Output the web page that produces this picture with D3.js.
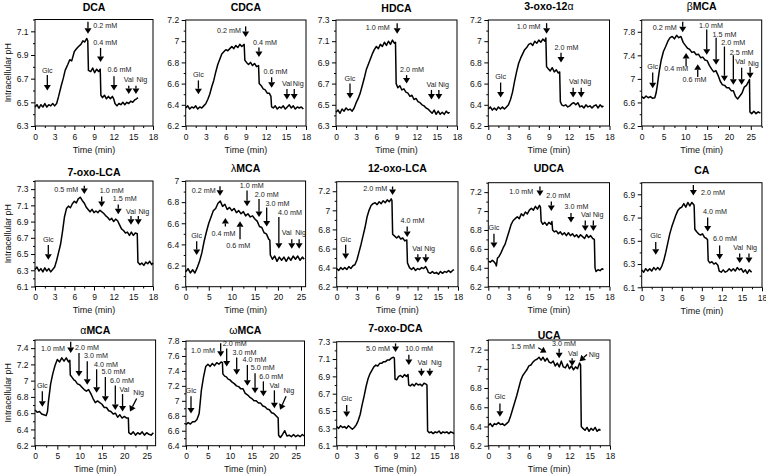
<!DOCTYPE html>
<html><head><meta charset="utf-8">
<script src="https://cdn.jsdelivr.net/npm/d3@7"></script>
<style>
body{margin:0;background:#fff}
svg{display:block}
text{font-family:"Liberation Sans",Arial,Helvetica,sans-serif}
</style>
</head><body>
<svg id="c" width="766" height="476"></svg>
<script>
// ---------- DATA: traces as [time (min), intracellular pH] ----------
const dcaTrace = [[0,6.46],[0.3,6.48],[0.6,6.45],[0.9,6.48],[1.2,6.46],[1.5,6.49],[1.8,6.46],[2.1,6.48],[2.4,6.47],[2.7,6.49],[3,6.47],[3.3,6.49],[3.6,6.55],[4,6.64],[4.3,6.70],[4.6,6.77],[5,6.82],[5.3,6.86],[5.6,6.85],[6,6.93],[6.3,6.95],[6.6,6.97],[7,6.99],[7.3,7.02],[7.6,7.01],[7.9,7.04],[8.05,7.02],[8.15,6.77],[8.5,6.76],[8.8,6.79],[9.1,6.75],[9.4,6.78],[9.7,6.76],[9.95,6.78],[10.05,6.56],[10.3,6.54],[10.6,6.56],[10.9,6.53],[11.2,6.55],[11.5,6.53],[11.8,6.55],[12.0,6.53],[12.2,6.49],[12.5,6.47],[12.8,6.49],[13.1,6.48],[13.4,6.50],[13.7,6.48],[14,6.50],[14.3,6.49],[14.6,6.51],[14.9,6.50],[15.2,6.52],[15.5,6.53],[15.7,6.54]];
const cdcaTrace = [[0,6.37],[0.3,6.39],[0.6,6.36],[0.9,6.38],[1.2,6.37],[1.5,6.39],[1.8,6.36],[2.1,6.38],[2.4,6.37],[2.7,6.39],[3,6.41],[3.3,6.45],[3.6,6.50],[3.9,6.57],[4.2,6.63],[4.5,6.71],[4.8,6.78],[5.1,6.83],[5.4,6.88],[5.7,6.90],[6,6.92],[6.3,6.91],[6.6,6.93],[6.9,6.95],[7.2,6.93],[7.5,6.96],[7.8,6.94],[8.1,6.97],[8.4,6.95],[8.75,6.97],[8.85,6.82],[9.1,6.80],[9.4,6.78],[9.7,6.80],[10,6.77],[10.3,6.79],[10.6,6.76],[10.9,6.77],[11.0,6.60],[11.3,6.58],[11.6,6.55],[11.9,6.54],[12.2,6.51],[12.5,6.51],[12.75,6.48],[12.85,6.38],[13.1,6.37],[13.4,6.39],[13.7,6.36],[14,6.38],[14.3,6.37],[14.6,6.39],[14.9,6.36],[15.2,6.38],[15.5,6.40],[15.8,6.37],[16.1,6.39],[16.4,6.36],[16.7,6.38],[17,6.37],[17.3,6.38],[17.6,6.36]];
const hdcaTrace = [[0,6.43],[0.3,6.45],[0.6,6.42],[0.9,6.46],[1.2,6.44],[1.5,6.47],[1.8,6.45],[2.1,6.46],[2.4,6.44],[2.7,6.47],[3,6.52],[3.3,6.56],[3.6,6.61],[3.9,6.68],[4.2,6.75],[4.5,6.83],[4.8,6.88],[5.1,6.93],[5.4,6.98],[5.7,7.02],[6,7.05],[6.3,7.03],[6.6,7.07],[6.9,7.05],[7.2,7.09],[7.5,7.06],[7.8,7.10],[8.1,7.07],[8.4,7.11],[8.7,7.08],[8.85,7.09],[8.95,6.70],[9.2,6.66],[9.5,6.68],[9.8,6.64],[10.1,6.65],[10.4,6.62],[10.7,6.61],[11,6.58],[11.3,6.59],[11.6,6.55],[11.9,6.56],[12.2,6.53],[12.5,6.52],[12.8,6.50],[13.1,6.49],[13.4,6.47],[13.7,6.46],[14,6.44],[14.3,6.42],[14.6,6.45],[14.9,6.41],[15.2,6.44],[15.5,6.41],[15.8,6.43],[16.1,6.41],[16.4,6.44],[16.7,6.42],[16.9,6.43]];
const oxo12Trace = [[0,6.36],[0.3,6.38],[0.6,6.35],[0.9,6.37],[1.2,6.35],[1.5,6.38],[1.8,6.36],[2.1,6.38],[2.4,6.36],[2.7,6.38],[3,6.40],[3.3,6.45],[3.6,6.52],[3.9,6.62],[4.2,6.71],[4.5,6.79],[4.8,6.84],[5.1,6.88],[5.4,6.92],[5.7,6.94],[6,6.97],[6.3,6.98],[6.6,6.96],[6.9,7.00],[7.2,6.98],[7.5,7.01],[7.8,6.99],[8.1,7.02],[8.4,7.00],[8.55,7.03],[8.65,6.76],[8.9,6.74],[9.2,6.72],[9.5,6.75],[9.8,6.71],[10.1,6.73],[10.4,6.70],[10.6,6.71],[10.7,6.43],[10.9,6.40],[11.2,6.39],[11.5,6.40],[11.8,6.38],[12.1,6.39],[12.4,6.41],[12.7,6.42],[13,6.40],[13.3,6.42],[13.6,6.38],[13.9,6.39],[14.2,6.37],[14.5,6.40],[14.8,6.38],[15.1,6.39],[15.4,6.37],[15.7,6.39],[16,6.40],[16.3,6.37],[16.6,6.40],[16.9,6.38],[17.1,6.39]];
const bmcaTrace = [[0,6.70],[0.5,6.67],[1,6.71],[1.5,6.68],[2,6.70],[2.5,6.67],[3,6.68],[3.3,6.76],[3.6,6.90],[4,7.12],[4.5,7.33],[5,7.47],[5.5,7.55],[6,7.64],[6.5,7.70],[7,7.72],[7.5,7.68],[8,7.74],[8.5,7.70],[9,7.72],[9.5,7.62],[10,7.57],[10.5,7.52],[11,7.50],[11.5,7.45],[12,7.46],[12.5,7.41],[13,7.42],[13.5,7.36],[14,7.37],[14.5,7.32],[15,7.31],[15.5,7.23],[16,7.17],[16.5,7.12],[17,7.14],[17.5,7.06],[18,6.96],[18.5,6.90],[19,6.89],[19.5,6.85],[20,6.85],[20.5,6.80],[21,6.80],[21.5,6.70],[22,6.66],[22.5,6.71],[23,6.76],[23.5,6.86],[24,6.89],[24.5,6.96],[24.7,6.99],[24.8,6.44],[25.2,6.41],[25.7,6.45],[26.2,6.41],[26.7,6.44],[27.2,6.42]];
const oxoLcaTrace = [[0,6.31],[0.3,6.34],[0.6,6.29],[0.9,6.32],[1.2,6.28],[1.5,6.33],[1.8,6.29],[2.1,6.32],[2.4,6.28],[2.7,6.31],[3,6.34],[3.3,6.42],[3.6,6.52],[3.9,6.62],[4.2,6.78],[4.5,6.96],[4.8,7.06],[5.1,7.09],[5.4,7.07],[5.7,7.12],[6,7.15],[6.3,7.13],[6.6,7.18],[6.9,7.20],[7.2,7.16],[7.5,7.13],[7.8,7.08],[8.1,7.05],[8.4,7.02],[8.7,7.05],[9,7.01],[9.3,7.03],[9.6,7.01],[9.9,7.04],[10.2,7.02],[10.5,7.00],[10.8,6.97],[11.1,6.95],[11.4,6.92],[11.7,6.94],[12,6.90],[12.3,6.93],[12.6,6.91],[12.9,6.86],[13.2,6.81],[13.5,6.79],[13.8,6.76],[14.1,6.77],[14.4,6.73],[14.7,6.77],[15,6.73],[15.3,6.76],[15.6,6.75],[15.7,6.40],[16,6.37],[16.3,6.39],[16.6,6.36],[16.9,6.40],[17.2,6.38],[17.5,6.41],[17.8,6.37],[18,6.39]];
const lmcaTrace = [[0,6.14],[0.5,6.17],[1,6.13],[1.5,6.16],[2,6.13],[2.5,6.18],[3,6.24],[3.5,6.32],[4,6.43],[4.5,6.52],[5,6.60],[5.5,6.66],[6,6.72],[6.5,6.74],[7,6.79],[7.5,6.81],[8,6.76],[8.5,6.78],[9,6.73],[9.5,6.75],[10,6.72],[10.5,6.74],[11,6.70],[11.5,6.72],[12,6.69],[12.5,6.71],[13,6.67],[13.5,6.69],[14,6.66],[14.5,6.67],[15,6.64],[15.5,6.62],[16,6.57],[16.5,6.56],[17,6.51],[17.5,6.50],[18,6.45],[18.25,6.44],[18.35,6.30],[18.8,6.26],[19.3,6.29],[19.8,6.24],[20.3,6.28],[20.8,6.25],[21.3,6.28],[21.8,6.24],[22.3,6.28],[22.8,6.25],[23.3,6.29],[23.8,6.26],[24.3,6.29],[24.8,6.25],[25.3,6.28],[25.7,6.26]];
const oxo12LcaTrace = [[0,6.39],[0.3,6.37],[0.6,6.40],[0.9,6.38],[1.2,6.40],[1.5,6.38],[1.8,6.41],[2.1,6.39],[2.4,6.42],[2.7,6.43],[3,6.48],[3.3,6.56],[3.6,6.64],[3.9,6.73],[4.2,6.82],[4.5,6.93],[4.8,7.00],[5.1,7.05],[5.4,7.07],[5.7,7.08],[6,7.06],[6.3,7.09],[6.6,7.07],[6.9,7.10],[7.2,7.08],[7.5,7.11],[7.8,7.09],[8.1,7.12],[8.2,7.10],[8.3,6.75],[8.6,6.73],[8.9,6.71],[9.2,6.73],[9.5,6.70],[9.8,6.71],[10.1,6.68],[10.4,6.69],[10.5,6.45],[10.8,6.40],[11.1,6.38],[11.4,6.40],[11.7,6.37],[12,6.39],[12.3,6.38],[12.6,6.40],[12.9,6.39],[13.2,6.41],[13.5,6.37],[13.6,6.35],[13.9,6.34],[14.2,6.36],[14.5,6.34],[14.8,6.35],[15.1,6.33],[15.4,6.36],[15.7,6.34],[16,6.36],[16.3,6.35],[16.6,6.37],[16.9,6.35],[17.2,6.37],[17.4,6.38]];
const udcaTrace = [[0,6.47],[0.3,6.46],[0.6,6.48],[0.9,6.46],[1.1,6.44],[1.2,6.42],[1.35,6.50],[1.6,6.52],[1.9,6.56],[2.2,6.61],[2.5,6.65],[2.8,6.72],[3.1,6.79],[3.4,6.86],[3.7,6.90],[4,6.92],[4.3,6.94],[4.6,6.92],[4.9,6.97],[5.2,6.95],[5.5,6.99],[5.8,6.97],[6.1,7.01],[6.4,7.03],[6.7,7.01],[7,7.05],[7.3,7.02],[7.6,7.06],[7.75,7.04],[7.85,6.89],[8.1,6.86],[8.4,6.88],[8.7,6.85],[9,6.88],[9.3,6.86],[9.45,6.89],[9.55,6.80],[9.8,6.78],[10.1,6.79],[10.4,6.76],[10.7,6.78],[11,6.75],[11.3,6.77],[11.6,6.74],[11.9,6.77],[12.2,6.74],[12.5,6.76],[12.8,6.73],[13.1,6.75],[13.4,6.72],[13.7,6.75],[14,6.73],[14.3,6.71],[14.6,6.75],[14.9,6.72],[15.2,6.74],[15.5,6.71],[15.75,6.70],[15.85,6.40],[16,6.36],[16.3,6.38],[16.6,6.37],[16.9,6.39],[17.1,6.38]];
const caTrace = [[0,6.25],[0.3,6.23],[0.6,6.26],[0.9,6.24],[1.2,6.26],[1.5,6.24],[1.8,6.27],[2.1,6.25],[2.4,6.27],[2.7,6.25],[3,6.28],[3.3,6.33],[3.6,6.40],[3.9,6.48],[4.2,6.56],[4.5,6.62],[4.8,6.67],[5.1,6.72],[5.4,6.76],[5.7,6.78],[6,6.79],[6.3,6.82],[6.6,6.79],[6.9,6.83],[7.2,6.80],[7.5,6.83],[7.8,6.81],[7.85,6.80],[7.95,6.60],[8.2,6.58],[8.5,6.56],[8.8,6.55],[9.1,6.56],[9.4,6.53],[9.7,6.52],[9.85,6.51],[9.95,6.33],[10.2,6.31],[10.5,6.32],[10.8,6.30],[11.1,6.31],[11.4,6.29],[11.6,6.24],[11.9,6.23],[12.2,6.25],[12.5,6.23],[12.8,6.24],[13.1,6.26],[13.4,6.24],[13.7,6.26],[14,6.24],[14.3,6.27],[14.6,6.25],[14.9,6.26],[15.2,6.23],[15.5,6.25],[15.8,6.22],[16.1,6.25],[16.45,6.23]];
const amcaTrace = [[0,6.64],[0.5,6.61],[1,6.62],[1.5,6.59],[2,6.58],[2.5,6.57],[2.8,6.62],[3,6.74],[3.5,6.96],[4,7.09],[4.5,7.19],[5,7.26],[5.5,7.23],[6,7.28],[6.5,7.24],[7,7.28],[7.5,7.23],[7.8,7.25],[7.9,7.07],[8.3,7.04],[8.7,7.01],[9,7.00],[9.5,6.96],[10,6.95],[10.5,6.92],[11,6.89],[11.5,6.87],[12,6.89],[12.5,6.84],[13,6.78],[13.5,6.73],[14,6.75],[14.5,6.73],[15,6.71],[15.5,6.67],[16,6.67],[16.5,6.63],[17,6.62],[17.5,6.59],[18,6.60],[18.5,6.55],[19,6.58],[19.5,6.54],[20,6.56],[20.5,6.54],[20.9,6.54],[21,6.36],[21.5,6.34],[22,6.37],[22.5,6.33],[23,6.36],[23.5,6.34],[24,6.37],[24.5,6.33],[25,6.36],[25.5,6.34],[26,6.33],[26.5,6.36]];
const wmcaTrace = [[0,6.68],[0.5,6.71],[1,6.69],[1.5,6.72],[2,6.72],[2.5,6.75],[3,6.83],[3.5,7.14],[4,7.32],[4.5,7.46],[5,7.49],[5.5,7.46],[6,7.50],[6.5,7.47],[7,7.51],[7.5,7.49],[8,7.52],[8.3,7.51],[8.4,7.36],[8.8,7.33],[9.2,7.32],[9.6,7.29],[10,7.28],[10.5,7.25],[11,7.23],[11.5,7.20],[12,7.19],[12.5,7.16],[13,7.16],[13.5,7.10],[14,7.08],[14.5,7.05],[15,7.03],[15.5,7.00],[16,7.00],[16.5,6.97],[17,6.97],[17.5,6.93],[18,6.92],[18.5,6.89],[19,6.88],[19.5,6.84],[20,6.83],[20.5,6.80],[21,6.77],[21.1,6.54],[21.5,6.51],[22,6.55],[22.5,6.60],[23,6.53],[23.5,6.54],[24,6.52],[24.5,6.55],[25,6.52],[25.5,6.54],[26,6.52],[26.5,6.55],[26.9,6.53]];
const oxoDcaTrace = [[0,6.32],[0.3,6.30],[0.6,6.33],[0.9,6.31],[1.2,6.32],[1.5,6.30],[1.8,6.33],[2.1,6.31],[2.4,6.29],[2.7,6.31],[3,6.34],[3.3,6.39],[3.6,6.46],[3.9,6.57],[4.2,6.67],[4.5,6.78],[4.8,6.87],[5.1,6.93],[5.4,6.97],[5.7,7.01],[6,7.03],[6.3,7.02],[6.6,7.05],[6.9,7.05],[7.2,7.07],[7.5,7.07],[7.8,7.09],[8.1,7.09],[8.4,7.11],[8.7,7.12],[8.85,7.11],[8.95,6.87],[9.2,6.86],[9.5,6.90],[9.8,6.91],[10.1,6.89],[10.4,6.92],[10.7,6.90],[10.95,6.92],[11.05,6.80],[11.3,6.79],[11.6,6.81],[11.9,6.79],[12.2,6.82],[12.5,6.80],[12.8,6.81],[13.1,6.79],[13.4,6.82],[13.7,6.81],[13.85,6.80],[13.95,6.27],[14.2,6.25],[14.5,6.26],[14.8,6.24],[15.1,6.26],[15.4,6.25],[15.7,6.27],[16,6.24],[16.3,6.26],[16.6,6.25],[16.9,6.26],[17.2,6.24],[17.5,6.26],[17.8,6.25],[18,6.24]];
const ucaTrace = [[0,6.41],[0.3,6.43],[0.6,6.40],[0.9,6.43],[1.2,6.42],[1.5,6.44],[1.8,6.42],[2.1,6.43],[2.4,6.41],[2.7,6.43],[3,6.45],[3.3,6.51],[3.6,6.58],[3.9,6.65],[4.2,6.72],[4.5,6.80],[4.8,6.88],[5.1,6.93],[5.4,6.96],[5.7,6.99],[6,7.03],[6.3,7.04],[6.6,7.07],[6.9,7.09],[7.2,7.10],[7.5,7.12],[7.8,7.09],[8.1,7.12],[8.4,7.08],[8.7,7.11],[9,7.07],[9.3,7.06],[9.6,7.08],[9.9,7.03],[10.2,7.06],[10.5,7.02],[10.8,7.08],[11.1,7.02],[11.4,7.01],[11.7,7.05],[12,7.00],[12.3,7.03],[12.6,6.99],[12.9,7.02],[13.2,7.00],[13.5,7.06],[13.65,7.04],[13.75,6.40],[14,6.38],[14.3,6.36],[14.6,6.39],[14.9,6.35],[15.2,6.38],[15.5,6.36],[15.8,6.39],[16.1,6.35],[16.4,6.37],[16.6,6.36]];

// ---------- ANNOTATIONS: [label, labelTime, labelPH, anchor, tailTime, tailPH, tipTime, tipPH] ----------
const dcaArrows = [['Glc',1.88,6.77,'middle',1.88,6.73,1.88,6.60],['0.2 mM',8.9,7.15,'start',8.08,7.18,8.08,7.08],['0.4 mM',10.7,7.01,'middle',10.0,6.96,10.0,6.84],['0.6 mM',12.9,6.78,'middle',12.05,6.72,12.05,6.60],['Val',14.3,6.69,'middle',14.3,6.64,14.3,6.57],['Nig',16.3,6.69,'middle',15.4,6.64,15.4,6.57]];
const cdcaArrows = [['Glc',1.9,6.69,'middle',1.9,6.63,1.9,6.50],['0.2 mM',8.27,7.10,'end',8.97,7.14,8.97,7.04],['0.4 mM',11.86,6.99,'middle',10.96,6.94,10.96,6.85],['0.6 mM',13.45,6.71,'middle',12.86,6.66,12.86,6.56],['Val',15.15,6.60,'middle',15.15,6.55,15.15,6.45],['Nig',16.84,6.60,'middle',16.24,6.55,16.24,6.45]];
const hdcaArrows = [['Glc',2.08,6.75,'middle',2.08,6.70,2.08,6.56],['1.0 mM',8.0,7.23,'end',9.1,7.27,9.1,7.17],['2.0 mM',11.3,6.83,'middle',10.5,6.78,10.5,6.70],['Val',14.2,6.69,'middle',14.2,6.64,14.2,6.55],['Nig',16.0,6.69,'middle',15.3,6.64,15.3,6.55]];
const oxo12Arrows = [['Glc',1.83,6.67,'middle',1.83,6.61,1.83,6.47],['1.0 mM',7.77,7.14,'end',8.66,7.17,8.66,7.07],['2.0 mM',11.6,6.94,'middle',10.8,6.89,10.8,6.80],['Val',12.7,6.62,'middle',12.6,6.56,12.6,6.47],['Nig',14.5,6.62,'middle',13.8,6.56,13.8,6.47]];
const bmcaArrows = [['Glc',2.52,7.21,'middle',2.52,7.11,2.52,6.84],['0.2 mM',8.03,7.87,'end',9.4,7.97,9.4,7.79],['0.4 mM',7.9,7.17,'middle',10.17,7.21,10.17,7.44],['0.6 mM',12.1,6.99,'middle',12.84,7.03,12.84,7.25],['1.0 mM',15.9,7.91,'middle',14.9,7.84,14.9,7.41],['1.5 mM',18.96,7.76,'middle',17.05,7.70,17.05,7.24],['2.0 mM',21.0,7.61,'middle',18.96,7.55,18.96,6.96],['2.5 mM',22.9,7.45,'middle',21.0,7.40,21.0,6.90],['Val',22.55,7.30,'middle',22.9,7.19,22.9,6.90],['Nig',25.6,7.27,'middle',24.85,7.20,24.85,7.01]];
const oxoLcaArrows = [['Glc',2.03,6.68,'middle',2.03,6.61,2.03,6.43],['0.5 mM',6.6,7.30,'end',7.52,7.34,7.52,7.24],['1.0 mM',11.7,7.28,'middle',10.17,7.21,10.17,7.08],['1.5 mM',13.7,7.18,'middle',12.7,7.11,12.7,6.99],['Val',14.64,7.03,'middle',14.64,6.97,14.64,6.86],['Nig',16.6,7.03,'middle',15.76,6.97,15.76,6.86]];
const lmcaArrows = [['Glc',2.38,6.48,'middle',2.38,6.43,2.38,6.30],['0.2 mM',6.5,6.91,'end',7.44,6.95,7.44,6.86],['0.4 mM',8.2,6.50,'middle',8.6,6.57,8.6,6.65],['0.6 mM',11.4,6.39,'middle',11.78,6.45,11.78,6.62],['1.0 mM',14.3,6.96,'middle',13.3,6.91,13.3,6.76],['2.0 mM',17.56,6.87,'middle',15.9,6.83,15.9,6.66],['3.0 mM',19.9,6.79,'middle',17.56,6.75,17.56,6.57],['4.0 mM',22.6,6.70,'middle',20.2,6.66,20.2,6.36],['Val',21.9,6.51,'middle',23.0,6.45,23.0,6.36],['Nig',24.9,6.51,'middle',24.6,6.45,24.6,6.36]];
const oxo12LcaArrows = [['Glc',1.33,6.69,'middle',1.33,6.64,1.33,6.49],['2.0 mM',7.5,7.23,'end',8.29,7.25,8.29,7.16],['4.0 mM',11.25,6.89,'middle',10.46,6.83,10.46,6.72],['Val',11.94,6.60,'middle',12.04,6.54,12.04,6.45],['Nig',13.8,6.60,'middle',13.22,6.54,13.22,6.45]];
const udcaArrows = [['Glc',0.84,6.83,'middle',0.84,6.76,0.84,6.61],['1.0 mM',6.68,7.21,'end',7.67,7.26,7.67,7.16],['2.0 mM',10.4,7.16,'middle',9.36,7.10,9.36,7.0],['3.0 mM',13.1,7.05,'middle',12.28,6.98,12.28,6.88],['Val',14.5,6.96,'middle',14.4,6.90,14.4,6.79],['Nig',16.3,6.96,'middle',15.6,6.90,15.6,6.79]];
const caArrows = [['Glc',2.1,6.55,'middle',2.1,6.49,2.1,6.38],['2.0 mM',8.87,6.92,'start',7.73,6.98,7.73,6.89],['4.0 mM',10.97,6.75,'middle',9.87,6.70,9.87,6.58],['6.0 mM',12.46,6.52,'middle',11.66,6.46,11.66,6.34],['Val',14.45,6.44,'middle',14.66,6.39,14.66,6.31],['Nig',16.45,6.44,'middle',16.05,6.39,16.05,6.31]];
const amcaArrows = [['Glc',1.64,6.94,'middle',1.64,6.87,1.64,6.68],['1.0 mM',6.7,7.40,'end',7.99,7.48,7.99,7.34],['2.0 mM',8.96,7.41,'start',9.85,7.34,9.85,7.05],['3.0 mM',10.97,7.31,'start',11.7,7.24,11.7,6.95],['4.0 mM',13.2,7.205,'start',13.8,7.14,13.8,6.85],['5.0 mM',14.9,7.11,'start',15.75,7.045,15.75,6.74],['6.0 mM',16.8,7.005,'start',17.98,6.94,17.98,6.64],['Val',18.9,6.895,'start',19.6,6.835,19.6,6.62],['Nig',22.0,6.86,'start',22.76,6.78,21.27,6.62]];
const wmcaArrows = [['Glc',1.14,7.14,'middle',1.14,7.06,1.14,6.83],['1.0 mM',6.6,7.67,'end',7.9,7.77,7.9,7.59],['2.0 mM',8.36,7.77,'start',9.27,7.70,9.27,7.46],['3.0 mM',10.6,7.65,'start',11.55,7.58,11.55,7.35],['4.0 mM',12.9,7.55,'start',13.98,7.48,13.98,7.20],['5.0 mM',14.74,7.44,'start',15.73,7.37,15.73,7.10],['6.0 mM',16.7,7.33,'start',17.63,7.26,17.63,7.06],['Val',19.0,7.21,'start',20.14,7.14,20.14,6.90],['Nig',22.2,7.14,'start',22.8,7.06,21.43,6.88]];
const oxoDcaArrows = [['Glc',1.53,6.65,'middle',1.53,6.57,1.53,6.43],['5.0 mM',8.16,7.22,'end',9.03,7.28,9.03,7.18],['10.0 mM',12.65,7.22,'middle',11.07,7.15,11.07,7.03],['Val',13.16,7.06,'middle',13.0,6.99,13.0,6.90],['Nig',15.3,7.06,'middle',14.29,6.99,14.29,6.90]];
const ucaArrows = [['Glc',1.72,6.71,'middle',1.72,6.64,1.72,6.50],['1.5 mM',6.9,7.23,'end',7.38,7.22,8.6,7.17],['3.0 mM',11.2,7.259,'middle',10.48,7.21,10.48,7.11],['Val',12.5,7.163,'middle',12.4,7.11,12.4,7.03],['Nig',14.85,7.15,'start',14.6,7.15,13.5,7.08]];

// ---------- PANEL LAYOUT ----------
const panels = [
  {title:[['DCA',1]], trace:dcaTrace, ann:dcaArrows, x:[0,18], xs:3, y:[6.3,7.2], ys:0.2, box:[35,153,19.5,126], ty:7.3, ylab:true},
  {title:[['CDCA',1]], trace:cdcaTrace, ann:cdcaArrows, x:[0,18], xs:3, y:[6.2,7.2], ys:0.2, box:[185.7,306,20,126], ty:7.3},
  {title:[['HDCA',1]], trace:hdcaTrace, ann:hdcaArrows, x:[0,18], xs:3, y:[6.3,7.3], ys:0.2, box:[336,457,20,126], ty:8},
  {title:[['3-oxo-12',1],['α',0]], trace:oxo12Trace, ann:oxo12Arrows, x:[0,18], xs:3, y:[6.2,7.2], ys:0.2, box:[488.3,609.5,20,126], ty:6.5},
  {title:[['β',0],['MCA',1]], trace:bmcaTrace, ann:bmcaArrows, x:[0,27.5], xs:5, y:[6.2,8.0], ys:0.4, box:[641.7,761.7,20,126], ty:6.5},
  {title:[['7-oxo-LCA',1]], trace:oxoLcaTrace, ann:oxoLcaArrows, x:[0,18], xs:3, y:[6.1,7.4], ys:0.2, box:[35,153,181,286.5], ty:172, ylab:true},
  {title:[['λ',0],['MCA',1]], trace:lmcaTrace, ann:lmcaArrows, x:[0,26], xs:5, y:[6,7], ys:0.2, box:[185.7,305.6,181,286.7], ty:168},
  {title:[['12-oxo-LCA',1]], trace:oxo12LcaTrace, ann:oxo12LcaArrows, x:[0,18], xs:3, y:[6.2,7.3], ys:0.2, box:[336.7,458,181.7,286.7], ty:168},
  {title:[['UDCA',1]], trace:udcaTrace, ann:udcaArrows, x:[0,18], xs:3, y:[6.2,7.3], ys:0.2, box:[488.3,609.5,182.7,286.7], ty:168.5},
  {title:[['CA',1]], trace:caTrace, ann:caArrows, x:[0,18], xs:3, y:[6.1,7.0], ys:0.2, box:[641.7,762,182.7,287.3], ty:170.5},
  {title:[['α',0],['MCA',1]], trace:amcaTrace, ann:amcaArrows, x:[0,27], xs:5, y:[6.2,7.5], ys:0.2, box:[35,155.6,340,445.7], ty:330, ylab:true},
  {title:[['ω',0],['MCA',1]], trace:wmcaTrace, ann:wmcaArrows, x:[0,27], xs:5, y:[6.4,7.8], ys:0.2, box:[186,304.5,341,445.7], ty:330},
  {title:[['7-oxo-DCA',1]], trace:oxoDcaTrace, ann:oxoDcaArrows, x:[0,18], xs:3, y:[6.1,7.3], ys:0.2, box:[336.7,454,341.7,445.7], ty:328.3},
  {title:[['UCA',1]], trace:ucaTrace, ann:ucaArrows, x:[0,18], xs:3, y:[6.2,7.3], ys:0.2, box:[488.3,610,340,445.7], ty:335.5}
];

const FONT = '"Liberation Sans",Arial,Helvetica,sans-serif';
const fmt = d => String(+d.toFixed(2));
function range(a, b, s) { const o = []; for (let v = a; v <= b + 1e-9; v += s) o.push(+v.toFixed(4)); return o; }

const svg = d3.select('#c');
svg.append('rect').attr('width', 766).attr('height', 476).attr('fill', '#fff');

panels.forEach(p => {
  const [L, R, T, B] = p.box;
  const x = d3.scaleLinear().domain(p.x).range([L, R]);
  const y = d3.scaleLinear().domain(p.y).range([B, T]);
  const g = svg.append('g');

  // minor ticks
  const xMinor = range(p.x[0] + p.xs / 2, p.x[1], p.xs);
  const yMinor = range(p.y[0] + p.ys / 2, p.y[1], p.ys);
  g.append('g').attr('transform', `translate(0,${B})`)
    .call(d3.axisBottom(x).tickValues(xMinor).tickSize(2).tickFormat(''));
  g.append('g').attr('transform', `translate(${L},0)`)
    .call(d3.axisLeft(y).tickValues(yMinor).tickSize(2).tickFormat(''));

  // major ticks
  const gx = g.append('g').attr('transform', `translate(0,${B})`)
    .call(d3.axisBottom(x).tickValues(range(p.x[0], p.x[1], p.xs)).tickSize(4).tickPadding(3.5).tickFormat(fmt));
  const gy = g.append('g').attr('transform', `translate(${L},0)`)
    .call(d3.axisLeft(y).tickValues(range(p.y[0], p.y[1], p.ys)).tickSize(4).tickPadding(2.5).tickFormat(fmt));
  [gx, gy].forEach(a => a.attr('font-family', FONT).attr('font-size', 8.5));
  g.selectAll('.domain').remove();
  g.selectAll('.tick line').attr('stroke', '#000');
  g.selectAll('.tick text').attr('fill', '#111');

  // frame
  g.append('rect').attr('x', L).attr('y', T).attr('width', R - L).attr('height', B - T)
    .attr('fill', 'none').attr('stroke', '#000').attr('stroke-width', 1);

  // trace
  g.append('path').datum(p.trace)
    .attr('d', d3.line().x(d => x(d[0])).y(d => y(d[1])))
    .attr('fill', 'none').attr('stroke', '#000').attr('stroke-width', 1.5).attr('stroke-linejoin', 'round');

  // arrows & labels
  p.ann.forEach(a => {
    const [txt, lt, lph, anchor, t0, v0, t1, v1] = a;
    const x0 = x(t0), y0 = y(v0), x1 = x(t1), y1 = y(v1);
    const dx = x1 - x0, dy = y1 - y0, len = Math.hypot(dx, dy) || 1;
    const ux = dx / len, uy = dy / len, hl = 5.5, hw = 3.5;
    const bx = x1 - ux * hl, by = y1 - uy * hl;
    g.append('line').attr('x1', x0).attr('y1', y0).attr('x2', bx).attr('y2', by)
      .attr('stroke', '#000').attr('stroke-width', 1.3);
    g.append('path')
      .attr('d', `M${x1},${y1}L${bx - uy * hw},${by + ux * hw}L${bx + uy * hw},${by - ux * hw}Z`)
      .attr('fill', '#000');
    g.append('text').attr('x', x(lt)).attr('y', y(lph)).attr('dy', '0.35em')
      .attr('text-anchor', anchor).attr('font-size', 7.2).attr('fill', '#222').text(txt);
  });

  // title
  const tt = g.append('text').attr('x', (L + R) / 2).attr('y', p.ty).attr('dy', '0.35em')
    .attr('text-anchor', 'middle').attr('font-size', 10.5).attr('fill', '#000');
  p.title.forEach(([s, b]) => tt.append('tspan').attr('font-weight', b ? 'bold' : 'normal').text(s));

  // x-axis title
  g.append('text').attr('x', (L + R) / 2).attr('y', B + 23.5).attr('dy', '0.35em')
    .attr('text-anchor', 'middle').attr('font-size', 9).attr('fill', '#111').text('Time (min)');

  // y-axis title
  if (p.ylab) {
    g.append('text').attr('transform', `translate(8,${(T + B) / 2}) rotate(-90)`).attr('dy', '0.35em')
      .attr('text-anchor', 'middle').attr('font-size', 8.8).attr('fill', '#111').text('Intracellular pH');
  }
});
</script>
</body></html>
